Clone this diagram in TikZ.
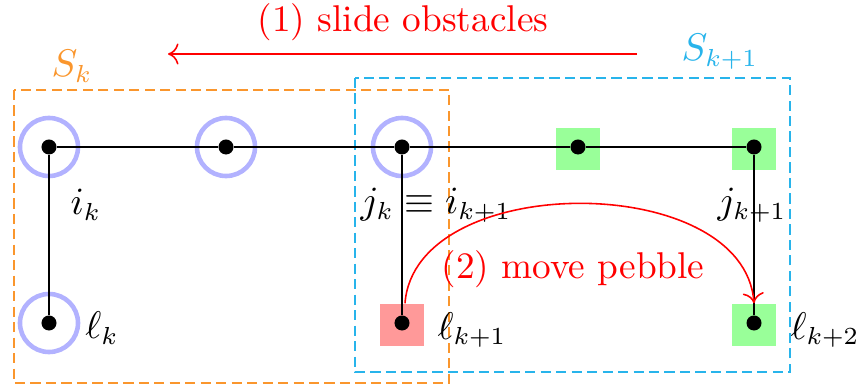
\documentclass[tikz,border=0pt]{standalone}
\usetikzlibrary{arrows.meta}
\definecolor{skorange}{RGB}{250,150,45}
\definecolor{skcyan}{RGB}{40,180,235}
\begin{document}
\begin{tikzpicture}[x=0.01cm,y=-0.01cm,
  font=\fontsize{10.6}{12.7}\selectfont,
  dot/.style={circle,fill=black,inner sep=0pt,minimum size=0.15cm},
  obst/.style={circle,draw=blue!30,line width=1.3pt,minimum size=0.58cm,inner sep=0pt},
  freesq/.style={fill=green!40,minimum width=0.44cm,minimum height=0.42cm,inner sep=0pt},
  takensq/.style={fill=red!40,minimum width=0.44cm,minimum height=0.42cm,inner sep=0pt},
  edge/.style={draw=black,line width=0.45pt},
  region/.style={draw=#1,line width=0.5pt,dash pattern=on 2.9pt off 1.5pt},
  move/.style={draw=red,line width=0.45pt,-{To[length=3pt,width=6pt]}}]
\useasboundingbox (0,0) rectangle (863,388);
% regions
\draw[region=skorange] (14,90) rectangle (449,383);
\draw[region=skcyan] (355,78) rectangle (790,372);
\node[text=skorange] (sk) at (72,66) {$S_k$};
\node[text=skcyan] (sk1) at (720,52) {$S_{k+1}$};
% markers
\node[obst] (c1) at (49,147) {};
\node[obst] (c2) at (226,147) {};
\node[obst] (c3) at (402,147) {};
\node[obst] (c4) at (49,323) {};
\node[freesq] (g1) at (578,149) {};
\node[freesq] (g2) at (754,149) {};
\node[freesq] (g3) at (754,325) {};
\node[takensq] (r1) at (402,325) {};
% vertices
\node[dot] (a1) at (49,147) {};
\node[dot] (a2) at (226,147) {};
\node[dot] (a3) at (402,147) {};
\node[dot] (a4) at (578,147) {};
\node[dot] (a5) at (754,147) {};
\node[dot] (b1) at (49,323) {};
\node[dot] (b2) at (402,323) {};
\node[dot] (b3) at (754,323) {};
% edges
\draw[edge] (a1) -- (a2) -- (a3) -- (a4) -- (a5);
\draw[edge] (a1) -- (b1);
\draw[edge] (a3) -- (b2);
\draw[edge] (a5) -- (b3);
% labels
\node (li) at (86,205) {$i_k$};
\node (lj) at (436,205) {$j_k\equiv i_{k+1}$};
\node (lj1) at (752,205) {$j_{k+1}$};
\node (ll) at (102,328) {$\ell_k$};
\node (ll1) at (472,330) {$\ell_{k+1}$};
\node (ll2) at (825,330) {$\ell_{k+2}$};
% slide arrow
\coordinate (s0) at (637,54);
\coordinate (s1) at (168,54);
\draw[move] (s0) -- (s1);
\node[text=red] (slide) at (403,22) {(1) slide obstacles};
% move pebble
\draw[move] ([xshift=0.03cm]r1.north) .. controls +(10,-133) and +(-10,-133) .. (g3.north);
\node[text=red] (peb) at (573,269) {(2) move pebble};
\end{tikzpicture}
\end{document}
